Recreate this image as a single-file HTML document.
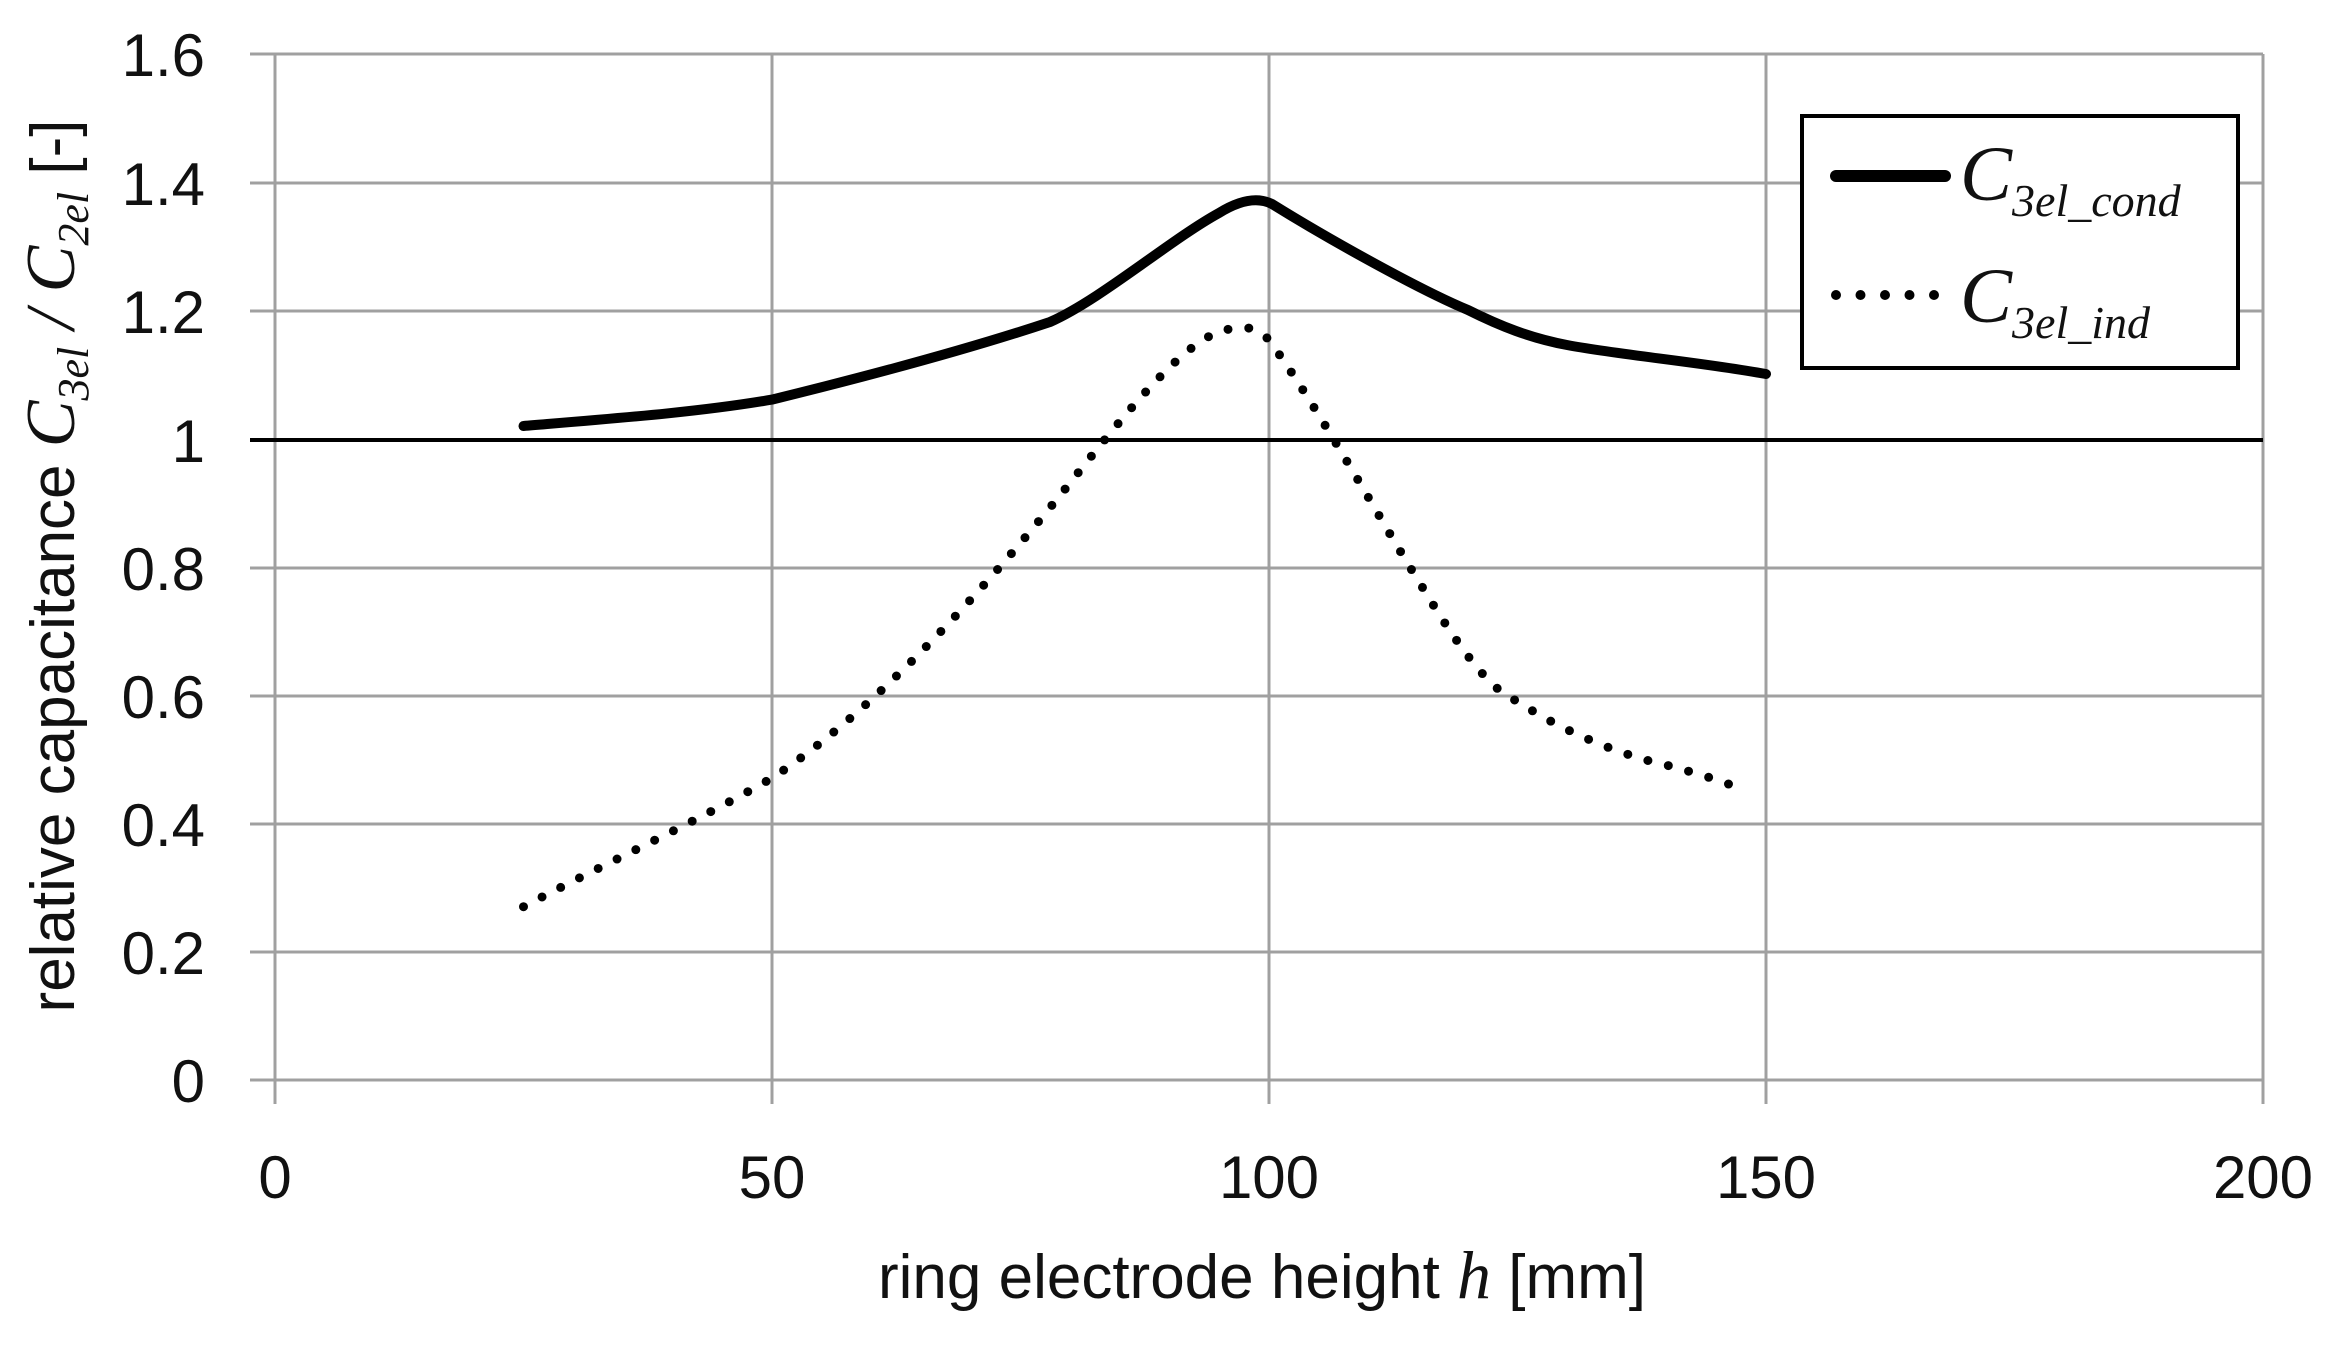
<!DOCTYPE html>
<html><head><meta charset="utf-8"><style>
html,body{margin:0;padding:0;background:#fff;}
svg{display:block;}
</style></head><body>
<svg width="2336" height="1346" viewBox="0 0 2336 1346" xmlns="http://www.w3.org/2000/svg" font-family="Liberation Sans, sans-serif" fill="#111">
<g stroke="#a0a0a0" stroke-width="3">
<line x1="250" y1="54" x2="2263" y2="54"/>
<line x1="250" y1="183" x2="2263" y2="183"/>
<line x1="250" y1="311" x2="2263" y2="311"/>
<line x1="250" y1="568" x2="2263" y2="568"/>
<line x1="250" y1="696" x2="2263" y2="696"/>
<line x1="250" y1="824" x2="2263" y2="824"/>
<line x1="250" y1="952" x2="2263" y2="952"/>
<line x1="250" y1="1080" x2="2263" y2="1080"/>
<line x1="275" y1="54" x2="275" y2="1104"/>
<line x1="772" y1="54" x2="772" y2="1104"/>
<line x1="1269" y1="54" x2="1269" y2="1104"/>
<line x1="1766" y1="54" x2="1766" y2="1104"/>
<line x1="2263" y1="54" x2="2263" y2="1104"/>
</g>
<line x1="250" y1="440" x2="2263" y2="440" stroke="#000" stroke-width="4"/>
<g font-size="60" text-anchor="end">
<text x="205" y="76">1.6</text>
<text x="205" y="205">1.4</text>
<text x="205" y="333">1.2</text>
<text x="205" y="462">1</text>
<text x="205" y="590">0.8</text>
<text x="205" y="718">0.6</text>
<text x="205" y="846">0.4</text>
<text x="205" y="974">0.2</text>
<text x="205" y="1102">0</text>
</g>
<g font-size="60" text-anchor="middle">
<text x="275" y="1198">0</text>
<text x="772" y="1198">50</text>
<text x="1269" y="1198">100</text>
<text x="1766" y="1198">150</text>
<text x="2263" y="1198">200</text>
<text x="1262" y="1298" font-size="62">ring electrode height <tspan style="font-family:'Liberation Serif',serif;font-style:italic" font-size="68">h</tspan> [mm]</text>
</g>
<text transform="translate(74,566) rotate(-90)" font-size="62" text-anchor="middle">relative capacitance <tspan style="font-family:'Liberation Serif',serif;font-style:italic" font-size="70">C</tspan><tspan style="font-family:'Liberation Serif',serif;font-style:italic" font-size="44" dy="14">3el</tspan><tspan style="font-family:'Liberation Serif',serif;font-style:italic" font-size="70" dy="-14"> / C</tspan><tspan style="font-family:'Liberation Serif',serif;font-style:italic" font-size="44" dy="14">2el</tspan><tspan dy="-14">  [-]</tspan></text>
<path fill="none" stroke="#000" stroke-width="10" stroke-linecap="round" stroke-linejoin="round" d="M523.5,426 C620,418 700,412 772,399.6 C860,378 960,352 1050,322 C1100,300 1170,240 1219,213 C1240,200 1258,197 1272,204 C1330,240 1420,290 1468,310 C1500,326 1530,338 1567,345 C1620,355 1700,362 1766,374"/>
<path fill="none" stroke="#000" stroke-width="9" stroke-linecap="round" stroke-dasharray="0 21" d="M523.5,906.7 C600,866 700,820 772,778 C860,720 960,620 1070,483 C1120,420 1180,345 1219,332 C1240,325 1255,325 1269,340 C1320,410 1380,520 1418,580 C1460,650 1490,690 1517,701 C1560,730 1620,755 1666,765 C1700,774 1725,782 1746,791"/>
<rect x="1802" y="116" width="436" height="252" fill="#fff" stroke="#000" stroke-width="4"/>
<line x1="1836" y1="176" x2="1945" y2="176" stroke="#000" stroke-width="12" stroke-linecap="round"/>
<line x1="1836" y1="295" x2="1945" y2="295" stroke="#000" stroke-width="10" stroke-linecap="round" stroke-dasharray="0 24.5"/>
<text x="1960" y="200" font-size="78" style="font-family:'Liberation Serif',serif;font-style:italic">C<tspan font-size="46" dy="16">3el_cond</tspan></text>
<text x="1960" y="322" font-size="78" style="font-family:'Liberation Serif',serif;font-style:italic">C<tspan font-size="46" dy="16">3el_ind</tspan></text>
</svg>
</body></html>
